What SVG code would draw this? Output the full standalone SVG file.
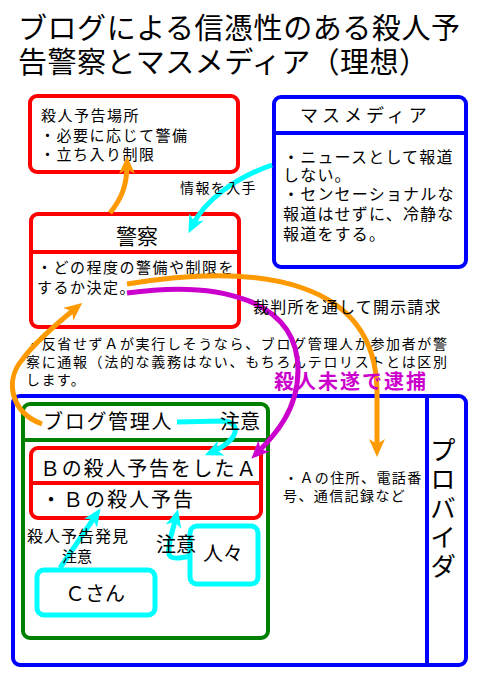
<svg xmlns="http://www.w3.org/2000/svg" width="480" height="677" viewBox="0 0 480 677">
<style>
text{font-family:"Noto Sans CJK JP","Noto Sans CJK SC",sans-serif;fill:#000}
.box{fill:#fff;stroke-width:4}
.r{stroke:#ff0000}.b{stroke:#0000ff}.g{stroke:#008000}.c{stroke:#00ffff;stroke-width:5}
.ln{fill:none;stroke-width:5}
.t15{font-size:15px;letter-spacing:1.5px}
.t14{font-size:14px;letter-spacing:1.4px}
.t16{font-size:16px;letter-spacing:1.2px}
.t20{font-size:20px;letter-spacing:1.7px}
</style>
<defs>
<marker id="ao" markerUnits="userSpaceOnUse" markerWidth="18" markerHeight="16" refX="10" refY="8" orient="auto"><path d="M0,0 L18,8 L0,16 L5,8 z" fill="#ff9900"/></marker>
<marker id="ac" markerUnits="userSpaceOnUse" markerWidth="18" markerHeight="16" refX="10" refY="8" orient="auto"><path d="M0,0 L18,8 L0,16 L5,8 z" fill="#00ffff"/></marker>
<marker id="am" markerUnits="userSpaceOnUse" markerWidth="18" markerHeight="16" refX="10" refY="8" orient="auto"><path d="M0,0 L18,8 L0,16 L5,8 z" fill="#cc00cc"/></marker>
</defs>
<rect width="480" height="677" fill="#fff"/>
<g id="title">
<text x="18" y="39" font-size="29" textLength="442">ブログによる信憑性のある殺人予</text>
<text x="18" y="73" font-size="29" textLength="410">告警察とマスメディア（理想）</text>
</g>
<g id="place">
<rect class="box r" x="30" y="96" width="208" height="76" rx="7"/>
<text class="t15" x="41" y="121">殺人予告場所</text>
<text class="t15" x="40" y="141">・必要に応じて警備</text>
<text class="t15" x="40" y="160">・立ち入り制限</text>
</g>
<g id="media">
<rect class="box b" x="274" y="97" width="192" height="170" rx="7"/>
<line class="b" stroke-width="4" x1="274" y1="133" x2="466" y2="133"/>
<text x="300" y="122" font-size="18" letter-spacing="4">マスメディア</text>
<text class="t16" x="283" y="163">・ニュースとして報道</text>
<text class="t16" x="283" y="181">しない。</text>
<text class="t16" x="283" y="200">・センセーショナルな</text>
<text class="t16" x="283" y="220">報道はせずに、冷静な</text>
<text class="t16" x="283" y="240">報道をする。</text>
</g>
<g id="police">
<rect class="box r" x="31" y="214" width="208" height="113" rx="7"/>
<line class="r" stroke-width="4" x1="31" y1="252" x2="239" y2="252"/>
<text x="116" y="244" font-size="21">警察</text>
<text class="t15" x="37" y="273">・どの程度の警備や制限を</text>
<text class="t15" x="37" y="293">するか決定。</text>
</g>
<g id="note">
<text x="26" y="349" font-size="14" textLength="421">・反省せずＡが実行しそうなら、ブログ管理人か参加者が警</text>
<text x="26" y="367" font-size="14" textLength="421">察に通報（法的な義務はない、もちろんテロリストとは区別</text>
<text x="26" y="385" font-size="14" letter-spacing="1.4">します。</text>
</g>
<g id="provider">
<rect class="box b" x="13" y="396" width="453" height="269" rx="7"/>
<line class="b" stroke-width="4" x1="427" y1="396" x2="427" y2="665"/>
<text x="443" y="437" font-size="26" letter-spacing="3" style="writing-mode:vertical-rl">プロバイダ</text>
<text class="t14" x="284" y="483">・Ａの住所、電話番</text>
<text class="t14" x="283" y="501">号、通信記録など</text>
</g>
<g id="blog">
<rect class="box g" x="23" y="404" width="245" height="234" rx="7"/>
<line class="g" stroke-width="4" x1="23" y1="440" x2="268" y2="440"/>
<text class="t20" x="43" y="429">ブログ管理人</text>
</g>
<g id="personA">
<rect class="box r" x="31" y="448" width="230" height="70" rx="7"/>
<line class="r" stroke-width="4" x1="31" y1="483" x2="261" y2="483"/>
<text x="40" y="476" font-size="20" letter-spacing="1.8">Ｂの殺人予告をしたＡ</text>
<text x="41" y="507" font-size="20" letter-spacing="2">・Ｂの殺人予告</text>
</g>
<g id="personC">
<rect class="box c" x="37" y="570" width="118" height="45" rx="7"/>
<text x="65" y="601" font-size="20">Ｃさん</text>
</g>
<g id="people">
<rect class="box c" x="190" y="526" width="68" height="58" rx="7"/>
<text x="203" y="561" font-size="20">人々</text>
</g>
<g id="connectors">
<path class="ln" stroke="#ff9900" d="M110,213 C122,198 127,185 127,164" marker-end="url(#ao)"/>
<path class="ln" stroke="#00ffff" d="M272,165 C235,178 205,200 192,226" marker-end="url(#ac)"/>
<path class="ln" stroke="#ff9900" d="M127,284 C260,262 375,280 377,390 L377,449" marker-end="url(#ao)"/>
<path class="ln" stroke="#cc00cc" d="M127,293 C220,280 298,300 298,370 C298,410 275,435 257,453" marker-end="url(#am)"/>
<path class="ln" stroke="#ff9900" d="M42,424 C10,412 5,380 22,360 C35,342 55,325 76,308" marker-end="url(#ao)"/>
<path class="ln" stroke="#00ffff" d="M177,422 L222,421 C242,421 240,440 212,452" marker-end="url(#ac)"/>
<path class="ln" stroke="#00ffff" d="M60,568 L96,515" marker-end="url(#ac)"/>
<path class="ln" stroke="#00ffff" d="M190,556 C165,562 168,555 170,540 L176,517" marker-end="url(#ac)"/>
<text class="t14" x="180" y="193">情報を入手</text>
<text x="253" y="313" font-size="16" letter-spacing="1.2">裁判所を通して開示請求</text>
<text x="274" y="389" font-size="20" font-weight="bold" style="fill:#cc00cc" letter-spacing="2">殺人未遂で逮捕</text>
<text x="220" y="429" font-size="20">注意</text>
<text x="27" y="542" font-size="16" letter-spacing="1">殺人予告発見</text>
<text x="62" y="562" font-size="15">注意</text>
<text x="156" y="552" font-size="20">注意</text>
</g>
</svg>
